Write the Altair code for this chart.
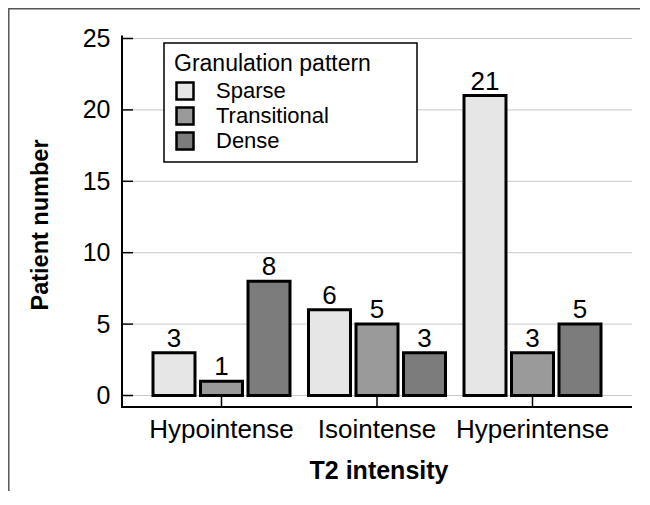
import altair as alt
import pandas as pd

categories = ["Hypointense", "Isointense", "Hyperintense"]
patterns = ["Sparse", "Transitional", "Dense"]
sparse = [3, 6, 21]
transitional = [1, 5, 3]
dense = [8, 3, 5]
y_ticks = [0, 5, 10, 15, 20, 25]
colors = ["#e6e6e6", "#9a9a9a", "#7c7c7c"]

rows = []
for p, vals in zip(patterns, [sparse, transitional, dense]):
    for c, v in zip(categories, vals):
        rows.append({"T2": c, "Pattern": p, "Count": v})
df = pd.DataFrame(rows)
tick_df = pd.DataFrame({"Count": y_ticks})
cat_df = pd.DataFrame({"T2": categories})
one = pd.DataFrame({"k": [0]})

W, H = 499, 357
FONT = "Liberation Sans"

xscale = alt.Scale(domain=categories, range=[10.75, 477.25], paddingInner=0.119, paddingOuter=0.0595)
yscale = alt.Scale(domain=[0, 25], nice=False, zero=True)
oscale = alt.Scale(domain=patterns, paddingInner=0.116, paddingOuter=0)

x_axis = alt.Axis(
    title="T2 intensity", titleFont=FONT, titleFontSize=25, titleFontWeight="bold",
    titleColor="black", titleX=245.5, titleY=71, titleAlign="center",
    titleBaseline="alphabetic", titleAnchor="middle",
    labelFont=FONT, labelFontSize=26, labelColor="black", labelAngle=0,
    labelPadding=9, labelBaseline="top",
    domain=False, ticks=False, grid=False, offset=11.5,
)
y_axis = alt.Axis(
    title="Patient number", titleFont=FONT, titleFontSize=23.5, titleFontWeight="bold",
    titleColor="black", titleX=-82, titleY=186, titleAngle=-90, titleAlign="center",
    titleBaseline="middle", titleAnchor="middle",
    labelFont=FONT, labelFontSize=25, labelColor="black", labelPadding=12,
    values=y_ticks, domain=False, ticks=False, grid=False, offset=11,
)

legend = alt.Legend(
    title="Granulation pattern",
    orient="none", legendX=31, legendY=4.5, padding=10,
    titleFont=FONT, titleFontSize=23, titleFontWeight="normal", titleColor="black",
    titlePadding=4, titleLimit=400,
    labelFont=FONT, labelFontSize=22, labelColor="black", labelOffset=20,
    symbolType="square", symbolSize=289, symbolStrokeColor="black",
    symbolStrokeWidth=2.5, rowPadding=-3,
)

X = alt.X("T2:N", sort=categories, scale=xscale, axis=x_axis)
Y = alt.Y("Count:Q", scale=yscale, axis=y_axis)
XO = alt.XOffset("Pattern:N", sort=patterns, scale=oscale)

grid = alt.Chart(tick_df).mark_rule(color="#c8c8c8", strokeWidth=1).encode(
    y=Y, x=alt.value(0), x2=alt.value(W)
)
yticks = alt.Chart(tick_df).mark_rule(color="black", strokeWidth=1.5).encode(
    y=Y, x=alt.value(-11), x2=alt.value(0)
)
bars = alt.Chart(df).mark_bar(stroke="black", strokeWidth=3).encode(
    x=X, xOffset=XO, y=Y,
    fill=alt.Fill("Pattern:N", sort=patterns,
                  scale=alt.Scale(domain=patterns, range=colors), legend=legend),
)
labels = alt.Chart(df).mark_text(
    dy=-6, baseline="alphabetic", fontSize=26, font=FONT, color="black"
).encode(x=X, xOffset=XO, y=Y, text=alt.Text("Count:Q"))
xticks = alt.Chart(cat_df).mark_rule(color="black", strokeWidth=1.5).encode(
    x=X, y=alt.value(H), y2=alt.value(H + 11.5),
)
legend_box = alt.Chart(one).mark_rect(fill="white", stroke="black", strokeWidth=1.5).encode(
    x=alt.value(31), x2=alt.value(284), y=alt.value(4.5), y2=alt.value(123.5)
)
yline = alt.Chart(one).mark_rule(color="black", strokeWidth=2).encode(
    x=alt.value(-11), y=alt.value(-3), y2=alt.value(H + 11.5)
)
xline = alt.Chart(one).mark_rule(color="black", strokeWidth=2).encode(
    y=alt.value(H + 11.5), x=alt.value(-12), x2=alt.value(W)
)
frame = alt.Chart(one).mark_rect(filled=False, stroke="#555555", strokeWidth=1.5).encode(
    x=alt.value(-124.2), x2=alt.value(W + 40), y=alt.value(-29.8), y2=alt.value(H + 140)
)

chart = alt.layer(
    grid, yticks, bars, labels, xticks, legend_box, yline, xline, frame
).properties(
    width=W, height=H,
    autosize=alt.AutoSizeParams(type="none"),
    padding={"left": 125, "top": 30.5, "right": 8, "bottom": 95},
    background="white",
).configure_view(stroke=None)

chart.save("out.html", embed_options={"renderer": "svg", "actions": False})
